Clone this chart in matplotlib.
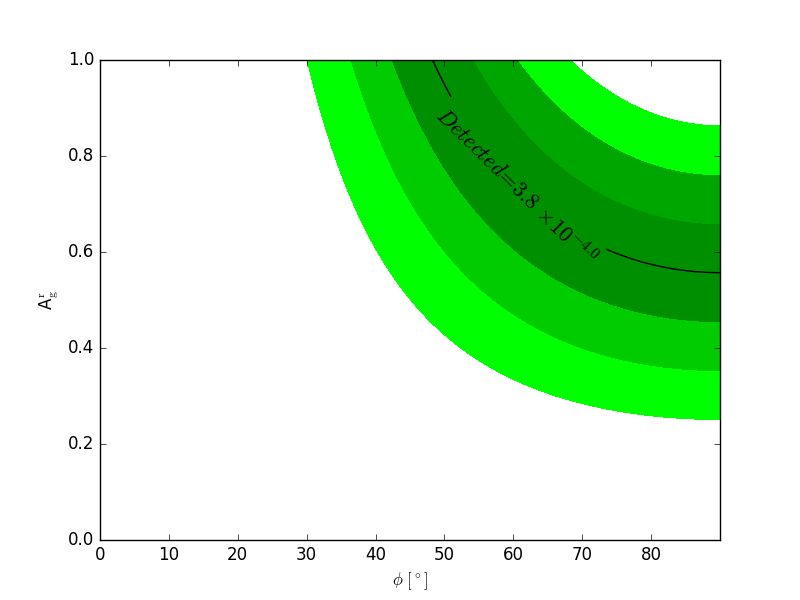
import numpy as np
import matplotlib
matplotlib.use("Agg")
import matplotlib.pyplot as plt

plt.style.use("classic")
plt.rcParams["mathtext.fontset"] = "cm"

# contour levels (detected value scaled, centre line = 3.8e-4)
band_levels = [0.251, 0.353, 0.455, 0.557, 0.659, 0.761, 0.863]
band_colors = ["#00ff00", "#00cc00", "#008f00", "#008f00", "#00a600", "#00ff00"]
line_level = [0.557]
label_text = r"$Detected\!=\!3.8\,\times\!10^{-4.0}$"
xticks = [0, 10, 20, 30, 40, 50, 60, 70, 80]
yticks = [0.0, 0.2, 0.4, 0.6, 0.8, 1.0]

phi = np.linspace(0, 90, 901)
albedo = np.linspace(0, 1, 801)
P, A = np.meshgrid(phi, albedo)
Z = A * np.sin(np.radians(P)) ** 2

fig = plt.figure(figsize=(8, 6), dpi=100, facecolor="white")
ax = fig.add_subplot(111)
ax.contourf(P, A, Z, levels=band_levels, colors=band_colors)
cs = ax.contour(P, A, Z, levels=line_level, colors="k", linewidths=1)
ax.clabel(cs, fmt={line_level[0]: label_text}, fontsize=16, inline=True,
          manual=[(60.5, 0.738)], inline_spacing=3)

ax.set_xlim(0, 90)
ax.set_ylim(0, 1)
ax.set_xticks(xticks)
ax.set_yticks(yticks)
ax.set_xlabel(r"$\phi\ [^\circ]$")
ax.set_ylabel(r"A$_\mathrm{g}^\mathrm{r}$")
fig.savefig("out.png", dpi=100, facecolor="white")
